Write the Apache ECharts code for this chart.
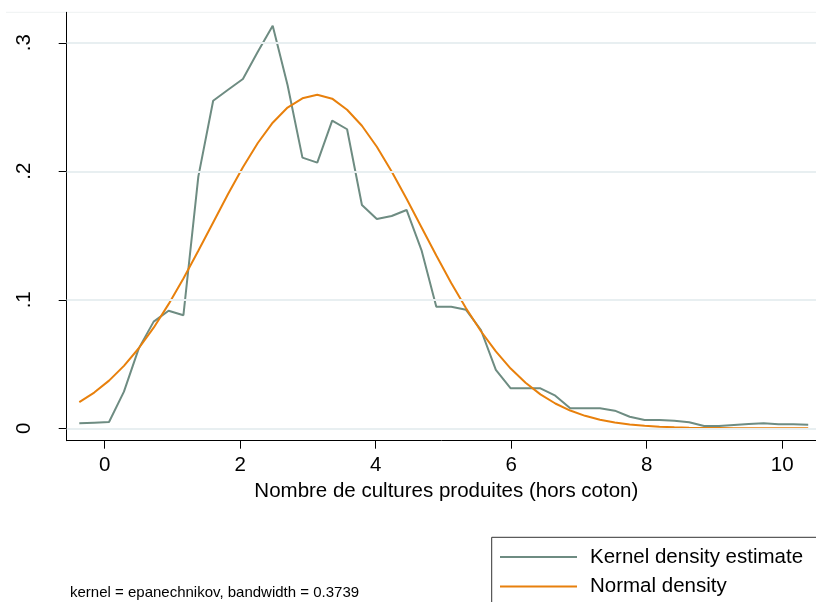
<!DOCTYPE html>
<html>
<head>
<meta charset="utf-8">
<script src="https://cdn.jsdelivr.net/npm/echarts@6/dist/echarts.min.js"></script>
<style>
html,body{margin:0;padding:0;background:#fff;}
#chart{width:816px;height:602px;}
</style>
</head>
<body>
<div id="chart"></div>
<script>
// Evaluation points (50-point grid)
var xs = [-0.375,-0.155,0.064,0.284,0.503,0.723,0.943,1.162,1.382,1.601,
          1.821,2.040,2.260,2.480,2.699,2.919,3.138,3.358,3.578,3.797,
          4.017,4.236,4.456,4.676,4.895,5.115,5.334,5.554,5.774,5.993,
          6.213,6.432,6.652,6.872,7.091,7.311,7.530,7.750,7.970,8.189,
          8.409,8.628,8.848,9.068,9.287,9.507,9.726,9.946,10.166,10.385];
// Kernel density estimate
var kernelY = [0.0039,0.0044,0.0049,0.0285,0.0622,0.0830,0.0915,0.0880,0.1958,0.2549,
               0.2634,0.2718,0.2930,0.3133,0.2671,0.2106,0.2067,0.2394,0.2327,0.1738,
               0.1629,0.1652,0.1699,0.1387,0.0946,0.0946,0.0922,0.0765,0.0454,0.0311,
               0.0311,0.0311,0.0254,0.0156,0.0156,0.0156,0.0137,0.0090,0.0065,0.0065,
               0.0059,0.0047,0.0018,0.0018,0.0026,0.0034,0.0039,0.0031,0.0031,0.0028];
// Normal density
var normalY = [0.0204,0.0278,0.0371,0.0486,0.0623,0.0783,0.0966,0.1166,0.1381,0.1602,
               0.1823,0.2032,0.2220,0.2378,0.2496,0.2568,0.2595,0.2565,0.2479,0.2354,
               0.2191,0.1999,0.1786,0.1565,0.1344,0.1131,0.0934,0.0755,0.0598,0.0465,
               0.0354,0.0264,0.0193,0.0138,0.0097,0.0067,0.0045,0.0030,0.0019,0.0012,
               0.0008,0.0005,0.0003,0.0002,0.0001,0.0001,0.0001,0.0000,0.0000,0.0000];
var xTicks = [0,2,4,6,8,10];
var yTicks = [0,0.1,0.2,0.3];
var yTickLabels = ['0','.1','.2','.3'];
var seriesNames = ['Kernel density estimate','Normal density'];
var xTitle = 'Nombre de cultures produites (hors coton)';
var note = 'kernel = epanechnikov, bandwidth = 0.3739';

function zip(a,b){var r=[];for(var i=0;i<a.length;i++){r.push([a[i],b[i]]);}return r;}

var FONT = '"Liberation Sans", Arial, sans-serif';
var chart = echarts.init(document.getElementById('chart'), null, {renderer:'canvas'});
var option = {
  animation:false,
  backgroundColor:'#ffffff',
  grid:{left:66.7,right:0,top:12.3,bottom:161.3,containLabel:false},
  xAxis:{
    type:'value', min:-0.561, max:10.5,
    axisLine:{show:true,onZero:false,lineStyle:{color:'#000',width:1}},
    axisTick:{show:true,customValues:xTicks,length:8,lineStyle:{color:'#000'}},
    axisLabel:{customValues:xTicks,margin:14,fontSize:20.5,color:'#000',fontFamily:FONT},
    splitLine:{show:false},
    name:xTitle, nameLocation:'middle', nameGap:36,
    nameTextStyle:{fontSize:20.5,color:'#000',fontFamily:FONT,padding:[0,0,0,10]}
  },
  yAxis:{
    type:'value', min:-0.00965, max:0.3237,
    axisLine:{show:true,onZero:false,lineStyle:{color:'#000',width:1}},
    axisTick:{show:true,customValues:yTicks,length:8,lineStyle:{color:'#000'}},
    axisLabel:{customValues:yTicks,rotate:90,margin:32,fontSize:20.5,color:'#000',fontFamily:FONT,
      formatter:function(v){for(var i=0;i<yTicks.length;i++){if(Math.abs(v-yTicks[i])<1e-9)return yTickLabels[i];}return '';}},
    splitLine:{show:false}
  },
  legend:{
    orient:'vertical', left:495, top:541.5, padding:5,
    itemWidth:77, itemHeight:2, itemGap:8.5, icon:'rect',
    data:seriesNames,
    textStyle:{fontSize:20.5,color:'#000',fontFamily:FONT,lineHeight:20.5,padding:[0,0,0,8]}
  },
  series:[
    {type:'line',name:'grid',data:[],silent:true,z:1,
     markLine:{silent:true,symbol:['none','none'],label:{show:false},
       lineStyle:{color:'#e8eff1',width:2,type:'solid'},
       data:yTicks.map(function(v){return {yAxis:v};})}},
    {type:'line',name:seriesNames[0],data:zip(xs,kernelY),showSymbol:false,symbol:'none',z:3,
     lineStyle:{color:'#6e8c82',width:2},itemStyle:{color:'#6e8c82'}},
    {type:'line',name:seriesNames[1],data:zip(xs,normalY),showSymbol:false,symbol:'none',z:4,
     lineStyle:{color:'#e8800c',width:2},itemStyle:{color:'#e8800c'}}
  ],
  graphic:[
    {type:'line',shape:{x1:6,y1:12.3,x2:816,y2:12.3},style:{stroke:'#eef1f2',lineWidth:1},silent:true},
    {type:'rect',shape:{x:491.7,y:537.3,width:400,height:120},style:{fill:'none',stroke:'#333',lineWidth:1},silent:true},
    {type:'text',left:70,top:585,style:{text:note,fontSize:15,fill:'#000',fontFamily:FONT},silent:true}
  ]
};
chart.setOption(option);
</script>
</body>
</html>
